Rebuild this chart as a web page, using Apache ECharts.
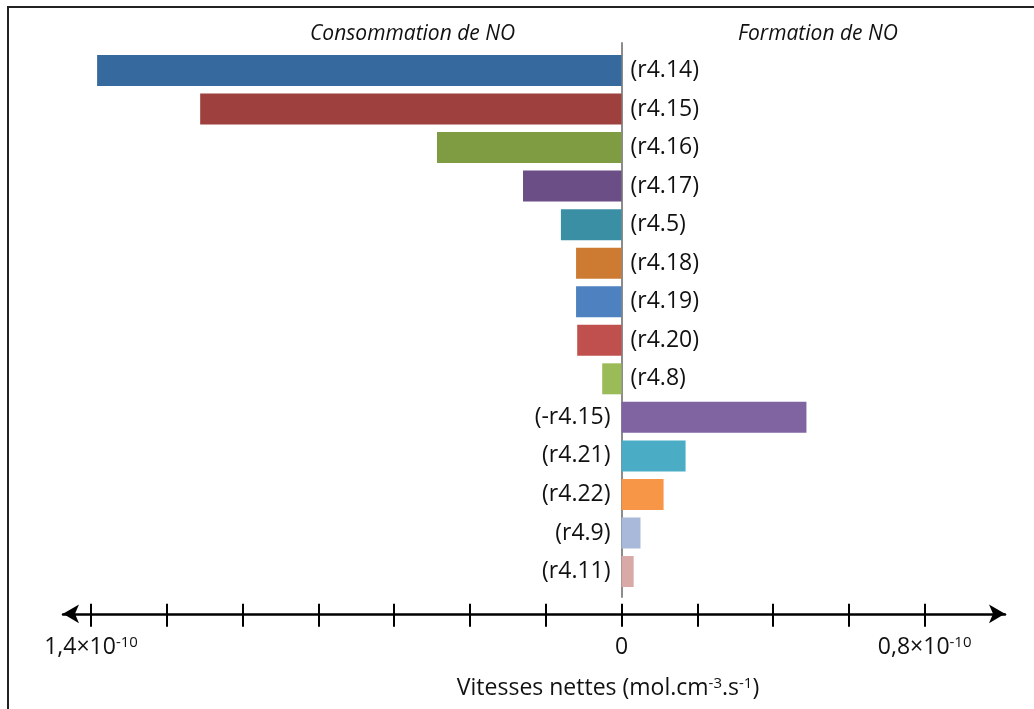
<!DOCTYPE html>
<html>
<head>
<meta charset="utf-8">
<script src="https://cdn.jsdelivr.net/npm/echarts@6/dist/echarts.min.js"></script>
<style>
  html, body { margin: 0; padding: 0; background: #fff; }
  #chart { position: absolute; left: 0; top: 0; width: 1034px; height: 709px; }
  #frame { position: absolute; left: 7px; top: 6px; width: 1100px; height: 800px;
           border: 2px solid #222; box-shadow: 1px 1px 0 #999; pointer-events: none; }
</style>
</head>
<body>
<div id="chart"></div>
<div id="frame"></div>
<script>
// Net rates of the reactions consuming (negative) or forming (positive) NO, in 10^-10 mol.cm-3.s-1
const reactions = ['r4.14', 'r4.15', 'r4.16', 'r4.17', 'r4.5', 'r4.18', 'r4.19', 'r4.20', 'r4.8',
                   '-r4.15', 'r4.21', 'r4.22', 'r4.9', 'r4.11'];
const netRates = [-1.384, -1.112, -0.487, -0.260, -0.160, -0.120, -0.120, -0.117, -0.051,
                  0.488, 0.169, 0.111, 0.050, 0.032];
const barColors = ['#366a9e', '#9e403e', '#7f9c43', '#6a4e85', '#3a8fa4', '#cd7b33', '#4e81bf',
                   '#c0504d', '#9bbb59', '#8064a2', '#4bacc6', '#f79646', '#a9b9d9', '#d9a9a8'];
const tickValues = [-1.4, -1.2, -1.0, -0.8, -0.6, -0.4, -0.2, 0, 0.2, 0.4, 0.6, 0.8];
const labelValues = [-1.4, 0, 0.8];
const sideTitles = ['Consommation de NO', 'Formation de NO'];

const AX_MIN = -1.474, AX_MAX = 1.012;
const FONT = '"Open Sans", Lato, sans-serif';

function tickLabel(v) {
  if (Math.abs(v) < 1e-9) return '{n|0}';
  return '{n|' + Math.abs(v).toFixed(1).replace('.', ',') + '×10}{s|-10}';
}

const supRich = {
  n: { fontFamily: FONT, fontSize: 23, color: '#111', lineHeight: 26 },
  s: { fontFamily: FONT, fontSize: 15, color: '#111', verticalAlign: 'top', lineHeight: 15 }
};

const chart = echarts.init(document.getElementById('chart'), null, { renderer: 'canvas' });

chart.setOption({
  animation: false,
  backgroundColor: '#fff',
  title: [
    { text: sideTitles[0], left: 305, top: 19,
      textStyle: { fontFamily: FONT, fontStyle: 'italic', fontWeight: 'normal', fontSize: 21, color: '#111' } },
    { text: sideTitles[1], left: 733, top: 19,
      textStyle: { fontFamily: FONT, fontStyle: 'italic', fontWeight: 'normal', fontSize: 21, color: '#111' } }
  ],
  grid: [
    { left: 63, right: 29, top: 51.2, bottom: 118.2 },
    { left: 63, right: 29, top: 43, bottom: 112 }
  ],
  xAxis: [
    {
      type: 'value', gridIndex: 0, min: AX_MIN, max: AX_MAX, position: 'bottom', offset: 23,
      axisLine: { show: true, onZero: false, symbol: ['arrow', 'arrow'], symbolSize: [14, 16],
                  lineStyle: { color: '#000', width: 2.5 } },
      axisTick: { show: true, inside: false, length: 13, customValues: tickValues,
                  lineStyle: { color: '#000', width: 2 } },
      axisLabel: {
        show: true, customValues: labelValues, margin: 21, formatter: tickLabel,
        rich: supRich
      },
      splitLine: { show: false },
      name: '{n|Vitesses nettes (mol.cm}{s|-3}{n|.s}{s|-1}{n|)}',
      nameLocation: 'middle', nameGap: 62,
      nameTextStyle: { padding: [0, 0, 0, 148], rich: supRich }
    },
    {
      type: 'value', gridIndex: 0, min: AX_MIN, max: AX_MAX, position: 'bottom', offset: 23,
      axisLine: { show: false, onZero: false },
      axisTick: { show: true, inside: true, length: 10, customValues: tickValues,
                  lineStyle: { color: '#000', width: 2 } },
      axisLabel: { show: false },
      splitLine: { show: false }
    },
    {
      type: 'value', gridIndex: 1, min: AX_MIN, max: AX_MAX,
      axisLine: { show: false }, axisTick: { show: false }, axisLabel: { show: false },
      splitLine: { show: false }
    }
  ],
  yAxis: [
    {
      type: 'category', gridIndex: 0, data: reactions, inverse: true,
      axisLine: { show: false }, axisTick: { show: false }, axisLabel: { show: false },
      splitLine: { show: false }
    },
    {
      type: 'value', gridIndex: 1, min: 0, max: 1,
      axisLine: { show: true, onZero: true, lineStyle: { color: '#8c8c8c', width: 2 } },
      axisTick: { show: false }, axisLabel: { show: false }, splitLine: { show: false }
    }
  ],
  series: [
    {
      type: 'bar', xAxisIndex: 0, yAxisIndex: 0, barWidth: 31,
      data: netRates.map((v, i) => ({
        value: v,
        itemStyle: { color: barColors[i] },
        label: { position: v < 0 ? 'right' : 'left', distance: v < 0 ? 9 : 11 }
      })),
      label: {
        show: true, formatter: '({b})',
        fontFamily: FONT, fontSize: 23, color: '#111'
      }
    }
  ]
});
</script>
</body>
</html>
